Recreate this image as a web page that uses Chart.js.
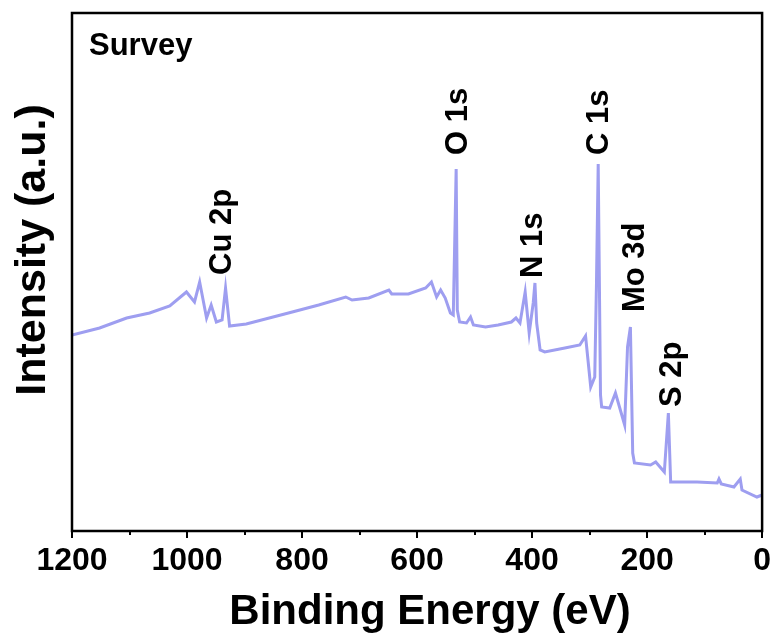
<!DOCTYPE html>
<html>
<head>
<meta charset="utf-8">
<script src="https://cdn.jsdelivr.net/npm/chart.js@4/dist/chart.umd.min.js"></script>
<style>
  html, body { margin: 0; padding: 0; background: #fff; }
  #wrap { width: 775px; height: 637px; }
</style>
</head>
<body>
<div id="wrap"><canvas id="xps_canvas" width="775" height="637"></canvas></div>
<script>
// survey spectrum (binding energy in eV, intensity in arb. units)
var energy = [1200, 1152, 1105, 1065, 1030, 1001, 987, 978, 966, 958, 949, 939, 933, 926, 897, 857, 817, 771, 724, 713,
    684, 649, 644, 615, 585, 575, 566, 559, 551, 542, 537, 532, 530, 526, 514, 507, 502, 481, 459, 436,
    428, 421, 412, 405, 398, 395, 392, 386, 378, 343, 317, 307, 298, 291, 288, 285, 281, 279, 265, 255,
    239, 234, 229, 225, 222, 194, 185, 170, 163, 159, 113, 78, 75, 71, 49, 38, 35, 9, 0];
var intensity = [192, 199, 209, 214, 221, 235, 225, 245, 209, 222, 205, 207, 239, 201, 203, 209, 215, 222, 230, 227,
    229, 237, 233, 233, 239, 245, 230, 237, 229, 214, 212, 358, 217, 205, 204, 210, 202, 200, 202, 205,
    209, 204, 235, 194, 224, 244, 204, 177, 175, 179, 182, 191, 140, 150, 244, 363, 132, 120, 119, 134,
    102, 180, 200, 74, 64, 62, 65, 55, 114, 45, 45, 44, 48, 43, 40, 48, 37, 30, 32];

// peak labels: name, energy where it sits, intensity at the bottom of the text
var peakNames = ["Cu 2p", "O 1s", "N 1s", "C 1s", "Mo 3d", "S 2p"];
var peakEnergy = [938, 528, 398, 282, 220, 156];
var peakLevel = [252, 372, 249, 372, 215, 120];

var xTicks = [1200, 1000, 800, 600, 400, 200, 0];
var xMinorTicks = [1100, 900, 700, 500, 300, 100];

var FONT = "'Liberation Sans', Arial, sans-serif";

var points = energy.map(function (e, i) { return { x: e, y: intensity[i] }; });

var decorPlugin = {
    id: "decor",
    afterDatasetsDraw: function (chart) {
        var ctx = chart.ctx;
        var area = chart.chartArea;
        var xs = chart.scales.x;
        var ys = chart.scales.y;
        ctx.save();
        // box round plot
        ctx.strokeStyle = "#000";
        ctx.lineWidth = 2.5;
        ctx.strokeRect(area.left, area.top, area.right - area.left, area.bottom - area.top);
        // minor ticks
        ctx.lineWidth = 2;
        xMinorTicks.forEach(function (v) {
            var px = Math.round(xs.getPixelForValue(v));
            ctx.beginPath();
            ctx.moveTo(px, area.bottom);
            ctx.lineTo(px, area.bottom + 4);
            ctx.stroke();
        });
        ctx.fillStyle = "#000";
        // label in corner
        ctx.font = "bold 31px " + FONT;
        ctx.textAlign = "left";
        ctx.textBaseline = "alphabetic";
        ctx.fillText("Survey", area.left + 17, area.top + 42);
        // axis titles
        ctx.font = "bold 42px " + FONT;
        ctx.textAlign = "center";
        ctx.fillText("Binding Energy (eV)", 430, 624);
        ctx.font = "bold 43px " + FONT;
        ctx.save();
        ctx.translate(45, 250);
        ctx.rotate(-Math.PI / 2);
        ctx.fillText("Intensity (a.u.)", 0, 0);
        ctx.restore();
        // peak labels, rotated
        ctx.font = "bold 31px " + FONT;
        ctx.textAlign = "left";
        ctx.textBaseline = "middle";
        peakNames.forEach(function (name, i) {
            var px = xs.getPixelForValue(peakEnergy[i]);
            var py = ys.getPixelForValue(peakLevel[i]);
            ctx.save();
            ctx.translate(px, py);
            ctx.rotate(-Math.PI / 2);
            ctx.fillText(name, 0, 0);
            ctx.restore();
        });
        ctx.restore();
    }
};

window.xpsChart = new Chart(document.getElementById("xps_canvas").getContext("2d"), {
    type: "scatter",
    data: {
        datasets: [{
            label: "Survey",
            data: points,
            showLine: true,
            borderColor: "rgb(158,158,240)",
            borderWidth: 3,
            pointRadius: 0,
            tension: 0,
            fill: false
        }]
    },
    options: {
        responsive: false,
        animation: false,
        layout: { padding: { top: 13, right: 10, left: 0, bottom: 0 } },
        plugins: {
            legend: { display: false },
            tooltip: { enabled: false }
        },
        scales: {
            x: {
                type: "linear",
                reverse: true,
                min: 0,
                max: 1200,
                afterBuildTicks: function (scale) {
                    scale.ticks = xTicks.map(function (v) { return { value: v }; });
                },
                afterFit: function (scale) { scale.height = 106; },
                ticks: {
                    color: "#000",
                    padding: 4,
                    maxRotation: 0,
                    callback: function (v) { return String(v); },
                    font: { family: FONT, size: 32, weight: "bold" }
                },
                grid: {
                    drawOnChartArea: false,
                    drawTicks: true,
                    tickLength: 7,
                    color: "#000",
                    lineWidth: 2
                },
                border: { display: false },
                title: { display: false }
            },
            y: {
                min: -4,
                max: 514,
                afterFit: function (scale) { scale.width = 72; },
                ticks: { display: false },
                grid: { display: false, drawTicks: false },
                border: { display: false },
                title: { display: false }
            }
        }
    },
    plugins: [decorPlugin]
});
</script>
</body>
</html>
